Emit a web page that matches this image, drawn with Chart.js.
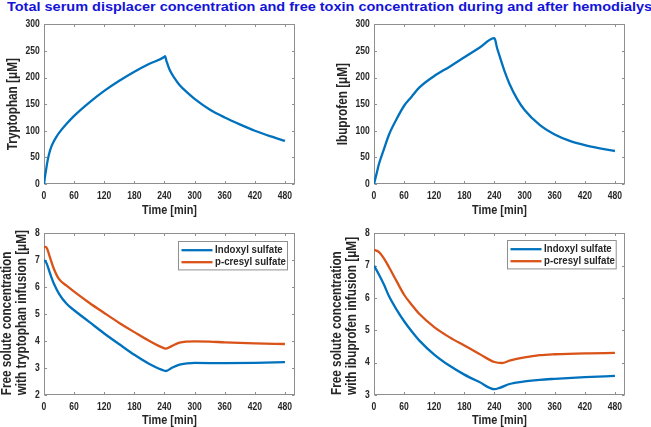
<!DOCTYPE html>
<html><head><meta charset="utf-8">
<script src="https://cdn.jsdelivr.net/npm/chart.js@4"></script>
<style>
html,body{margin:0;padding:0;background:#fff;overflow:hidden;width:651px;height:427px}
.p{position:absolute}
#title{position:absolute;left:7px;top:0px;white-space:nowrap;font-family:"Liberation Sans",Arial,sans-serif;font-weight:bold;font-size:12.6px;line-height:14px;color:#1414d8;transform:scaleX(1.15);transform-origin:0 0}
</style></head><body>
<div id="title">Total serum displacer concentration and free toxin concentration during and after hemodialysis</div>
<div class="p" style="left:0;top:14px"><canvas id="c1" width="326" height="206"></canvas></div>
<div class="p" style="left:326px;top:14px"><canvas id="c2" width="325" height="206"></canvas></div>
<div class="p" style="left:0;top:222px"><canvas id="c3" width="326" height="210"></canvas></div>
<div class="p" style="left:326px;top:222px"><canvas id="c4" width="325" height="210"></canvas></div>
<script>
// ---- data ----
const xTicks = [0, 60, 120, 180, 240, 300, 360, 420, 480];
const concTicks = [0, 50, 100, 150, 200, 250, 300];
const freeTrypTicks = [2, 3, 4, 5, 6, 7, 8];
const freeIbuTicks = [3, 4, 5, 6, 7, 8];

const timeTryp = [0, 2, 4, 7, 10, 15, 20, 25, 30, 45, 60, 90, 120, 150, 180, 210, 240, 241, 244, 250, 260, 270, 285, 300, 330, 360, 390, 420, 450, 480];
const tryptophan = [0, 14, 26, 43, 56, 71, 81, 89, 96, 113, 128, 153, 175, 194, 211, 226, 239, 240, 231, 215, 199, 186, 172, 160, 140, 125, 112, 100, 90, 81];

const timeIbu = [0, 5, 10, 20, 30, 45, 60, 75, 90, 120, 150, 180, 210, 240, 245, 250, 260, 270, 285, 300, 330, 360, 390, 420, 450, 480];
const ibuprofen = [0, 19, 38, 66, 93, 122, 147, 164, 181, 203, 220, 238, 256, 274, 256, 241, 212, 188, 160, 139, 111, 93, 81, 73, 67, 62];

const timeIsTryp = [0, 3, 6, 10, 15, 20, 30, 45, 60, 90, 120, 150, 180, 210, 240, 243, 255, 270, 285, 300, 360, 420, 480];
const indoxylTryp = [7.0, 6.96, 6.85, 6.63, 6.36, 6.12, 5.76, 5.39, 5.15, 4.72, 4.29, 3.89, 3.5, 3.16, 2.91, 2.9, 3.02, 3.14, 3.18, 3.2, 3.19, 3.2, 3.23];
const timePcTryp = [0, 3, 6, 10, 15, 20, 30, 45, 60, 90, 120, 150, 180, 210, 240, 243, 255, 270, 300, 330, 360, 420, 480];
const pcresylTryp = [7.47, 7.5, 7.44, 7.22, 6.93, 6.67, 6.3, 6.06, 5.84, 5.43, 5.05, 4.68, 4.34, 4.01, 3.74, 3.73, 3.83, 3.95, 4.0, 3.99, 3.96, 3.92, 3.9];

const timeIsIbu = [0, 10, 20, 30, 45, 60, 75, 90, 120, 150, 180, 210, 240, 250, 270, 300, 330, 360, 420, 480];
const indoxylIbu = [7.0, 6.72, 6.41, 6.05, 5.64, 5.28, 4.97, 4.69, 4.25, 3.91, 3.63, 3.40, 3.18, 3.22, 3.34, 3.42, 3.47, 3.5, 3.55, 3.59];
const timePcIbu = [0, 10, 20, 30, 45, 60, 75, 90, 120, 150, 180, 210, 240, 255, 270, 300, 330, 360, 420, 480];
const pcresylIbu = [7.49, 7.42, 7.22, 6.95, 6.52, 6.10, 5.79, 5.51, 5.10, 4.79, 4.53, 4.27, 4.02, 3.99, 4.06, 4.16, 4.23, 4.26, 4.29, 4.30];

const seriesNames = ['Indoxyl sulfate', 'p-cresyl sulfate'];

// ---- styling ----
const FONT = '"Liberation Sans", Arial, sans-serif';
const NARROW = 0.84;   // the reference's axis text is horizontally condensed
const TXT = '#262626';
const BOX = '#8f8f8f';
const BLUE = '#0072BD';
const ORANGE = '#D95319';

const pts = (xs, ys) => xs.map((x, i) => ({x: x, y: ys[i]}));

// draw canvas text condensed along its run (and report condensed widths for layout)
function condense(canvas, k) {
  const ctx = canvas.getContext('2d');
  const ft = ctx.fillText.bind(ctx), mt = ctx.measureText.bind(ctx);
  ctx.fillText = function (text, x, y) {
    ctx.save();
    ctx.translate(x, y);
    ctx.scale(k, 1);
    ft(text, 0, 0);
    ctx.restore();
  };
  ctx.measureText = function (t) {
    const m = mt(t);
    return {width: m.width * k,
            actualBoundingBoxAscent: m.actualBoundingBoxAscent,
            actualBoundingBoxDescent: m.actualBoundingBoxDescent,
            actualBoundingBoxLeft: m.actualBoundingBoxLeft * k,
            actualBoundingBoxRight: m.actualBoundingBoxRight * k};
  };
  return canvas;
}

const boxPlugin = {
  id: 'matlabBox',
  beforeDatasetsDraw(chart) {
    const {ctx, chartArea: a, scales} = chart;
    ctx.save();
    ctx.strokeStyle = BOX;
    ctx.lineWidth = 1;
    const L = Math.round(a.left) + 0.5, R = Math.round(a.right) - 0.5;
    const T = Math.round(a.top) + 0.5, B = Math.round(a.bottom) - 0.5;
    ctx.strokeRect(L, T, R - L, B - T);
    const tl = 2.5;
    ctx.beginPath();
    scales.x.ticks.forEach(t => {
      const px = Math.round(scales.x.getPixelForValue(t.value)) + 0.5;
      ctx.moveTo(px, B); ctx.lineTo(px, B - tl);
      ctx.moveTo(px, T); ctx.lineTo(px, T + tl);
    });
    scales.y.ticks.forEach(t => {
      const py = Math.round(scales.y.getPixelForValue(t.value)) + 0.5;
      ctx.moveTo(L, py); ctx.lineTo(L + tl, py);
      ctx.moveTo(R, py); ctx.lineTo(R - tl, py);
    });
    ctx.stroke();
    ctx.restore();
  },
  afterDatasetsDraw(chart, args, opts) {
    if (!opts || !opts.show) return;
    const {ctx, chartArea: a} = chart;
    const w = opts.width, h = opts.height;
    const x0 = Math.round(a.right - opts.right - w) + 0.5;
    const y0 = Math.round(a.top + opts.top) + 0.5;
    ctx.save();
    ctx.fillStyle = '#fff';
    ctx.fillRect(x0, y0, w, h);
    ctx.strokeStyle = BOX;
    ctx.lineWidth = 1;
    ctx.strokeRect(x0, y0, w, h);
    ctx.font = 'bold 11.5px ' + FONT;
    ctx.textBaseline = 'middle';
    ctx.textAlign = 'left';
    chart.data.datasets.forEach((ds, i) => {
      const yy = y0 + 8.7 + i * 12;
      ctx.strokeStyle = ds.borderColor;
      ctx.lineWidth = 2.3;
      ctx.beginPath();
      ctx.moveTo(x0 + 3, yy); ctx.lineTo(x0 + 34, yy);
      ctx.stroke();
      ctx.fillStyle = TXT;
      ctx.fillText(ds.label, x0 + 36.6, yy);
    });
    ctx.restore();
  }
};

function makeChart(id, o) {
  return new Chart(condense(document.getElementById(id), NARROW), {
    type: 'line',
    data: {datasets: o.datasets.map(d => ({
      label: d.label, data: d.data, borderColor: d.color, backgroundColor: d.color,
      borderWidth: 2.3, pointRadius: 0, fill: false, cubicInterpolationMode: 'monotone'
    }))},
    options: {
      responsive: false, animation: false, devicePixelRatio: 1, events: [],
      layout: {padding: o.pad},
      plugins: {legend: {display: false}, tooltip: {enabled: false}, matlabBox: o.legend || {show: false}},
      scales: {
        x: {
          type: 'linear', min: 0, max: 500,
          afterBuildTicks: s => { s.ticks = xTicks.map(v => ({value: v})); },
          afterFit: s => { s.height = o.xH; },
          grid: {display: false, drawTicks: false, tickLength: 0}, border: {display: false},
          ticks: {color: TXT, padding: 6, maxRotation: 0, autoSkip: false,
                  font: {family: FONT, size: 10.2, weight: 'bold', lineHeight: 1.2},
                  callback: v => String(v)},
          title: {display: true, text: 'Time [min]', color: TXT, padding: {top: 0, bottom: 0},
                  font: {family: FONT, size: 13, weight: 'bold', lineHeight: 1.2}}
        },
        y: {
          type: 'linear', min: o.yTicks[0], max: o.yTicks[o.yTicks.length - 1],
          afterBuildTicks: s => { s.ticks = o.yTicks.map(v => ({value: v})); },
          afterFit: s => { s.width = o.yW; },
          grid: {display: false, drawTicks: false, tickLength: 0}, border: {display: false},
          ticks: {color: TXT, padding: 4.2, autoSkip: false,
                  font: {family: FONT, size: 10.2, weight: 'bold', lineHeight: 1.2},
                  callback: v => String(v)},
          title: {display: true, text: o.yTitle, color: TXT, align: o.yAlign, padding: {top: 0, bottom: 0},
                  font: {family: FONT, size: 14, weight: 'bold', lineHeight: o.yLH}}
        }
      }
    },
    plugins: [boxPlugin]
  });
}

makeChart('c1', {
  datasets: [{label: 'Tryptophan', data: pts(timeTryp, tryptophan), color: BLUE}],
  yTicks: concTicks, yTitle: 'Tryptophan [\u03BCM]', yLH: 1.2, yAlign: 'center',
  pad: {left: 4.6, top: 8.7, right: 31, bottom: 2.2}, yW: 39.4, xH: 33.8
});
makeChart('c2', {
  datasets: [{label: 'Ibuprofen', data: pts(timeIbu, ibuprofen), color: BLUE}],
  yTicks: concTicks, yTitle: 'Ibuprofen [\u03BCM]', yLH: 1.2, yAlign: 'center',
  pad: {left: 8.9, top: 8.7, right: 26, bottom: 2.2}, yW: 39.1, xH: 33.8
});
makeChart('c3', {
  datasets: [
    {label: seriesNames[0], data: pts(timeIsTryp, indoxylTryp), color: BLUE},
    {label: seriesNames[1], data: pts(timePcTryp, pcresylTryp), color: ORANGE}
  ],
  yTicks: freeTrypTicks, yTitle: ['Free solute concentration', 'with tryptophan infusion [\u03BCM]'], yLH: 1.07, yAlign: 'start',
  pad: {left: 0, top: 11.3, right: 31, bottom: 3.5}, yW: 44, xH: 33.2,
  legend: {show: true, width: 109, height: 28.4, right: 8.3, top: 8}
});
makeChart('c4', {
  datasets: [
    {label: seriesNames[0], data: pts(timeIsIbu, indoxylIbu), color: BLUE},
    {label: seriesNames[1], data: pts(timePcIbu, pcresylIbu), color: ORANGE}
  ],
  yTicks: freeIbuTicks, yTitle: ['Free solute concentration', 'with ibuprofen infusion [\u03BCM]'], yLH: 1.07, yAlign: 'start',
  pad: {left: 3.2, top: 11.3, right: 26, bottom: 3.5}, yW: 44.8, xH: 33.5,
  legend: {show: true, width: 108.7, height: 28.4, right: 9, top: 7}
});
</script>
</body></html>
